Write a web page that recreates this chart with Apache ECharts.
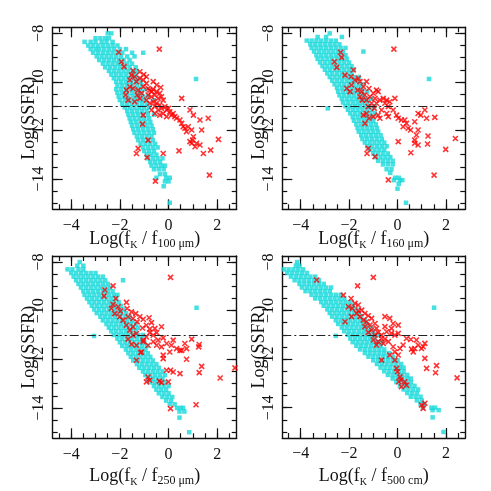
<!DOCTYPE html>
<html>
<head>
<meta charset="utf-8">
<script src="https://cdn.jsdelivr.net/npm/echarts@6/dist/echarts.min.js"></script>
<style>
  html, body { margin: 0; padding: 0; background: #fff; }
  #chart { width: 491px; height: 491px; }
</style>
</head>
<body>
<div id="chart"></div>
<script>
// shared axes of the four panels
const xRange = [-4.76, 2.8];
const yRange = [-15.25, -7.75];
const xMajor = [-4, -2, 0, 2];
const xTicks = [-4.5, -4, -3.5, -3, -2.5, -2, -1.5, -1, -0.5, 0, 0.5, 1, 1.5, 2, 2.5];
const yMajor = [-14, -12, -10, -8];
const yTicks = [-15, -14.5, -14, -13.5, -13, -12.5, -12, -11.5, -11, -10.5, -10, -9.5, -9, -8.5, -8];
const cutLevel = -11;
const bands = ['100 μm', '160 μm', '250 μm', '500 cm'];

// cyan squares, one row per Log(SSFR) level: [y, x, x, ...]
const cyanRows100 = [
  [-8.0, -2.35, -2.5],
  [-8.2, -3.0, -2.8, -2.6, -2.45],
  [-8.35, -3.45, -3.2, -3.0, -2.75, -2.55, -2.3],
  [-8.5, -3.3, -3.1, -2.9, -2.7, -2.5, -2.3, -2.1],
  [-8.65, -3.2, -3.0, -2.85, -2.65, -2.45, -2.25, -2.0, -1.75],
  [-8.8, -3.1, -2.9, -2.7, -2.5, -2.3, -2.1, -1.9, -1.5, -1.04],
  [-8.95, -2.95, -2.75, -2.55, -2.35, -2.15, -1.95, -1.7, -1.4],
  [-9.1, -2.85, -2.65, -2.45, -2.25, -2.05, -1.85, -1.6],
  [-9.25, -2.7, -2.5, -2.3, -2.1, -1.9, -1.7, -1.5],
  [-9.4, -2.6, -2.4, -2.2, -2.0, -1.8, -1.6, -1.35],
  [-9.55, -2.45, -2.25, -2.05, -1.85, -1.65, -1.45, -1.3],
  [-9.7, -2.35, -2.15, -1.95, -1.75, -1.55, -1.35],
  [-9.85, -2.25, -2.05, -1.85, -1.65, -1.45, -1.25],
  [-10.0, -2.15, -1.95, -1.75, -1.55, -1.35, -1.15],
  [-10.15, -2.1, -1.9, -1.7, -1.5, -1.3, -1.1],
  [-10.3, -2.15, -1.95, -1.75, -1.55, -1.35, -1.15, -0.95],
  [-10.45, -2.1, -1.9, -1.7, -1.5, -1.3, -1.1],
  [-10.6, -2.05, -1.85, -1.65, -1.45, -1.25, -1.05, -0.85],
  [-10.75, -2.0, -1.8, -1.6, -1.4, -1.2, -1.0, -0.6],
  [-10.9, -1.9, -1.7, -1.5, -1.3, -1.1, -0.9],
  [-11.05, -1.8, -1.6, -1.4, -1.2, -1.0, -0.8],
  [-11.2, -1.7, -1.5, -1.3, -1.1, -0.9],
  [-11.35, -1.65, -1.45, -1.25, -1.05, -0.85, -0.6],
  [-11.5, -1.6, -1.4, -1.2, -1.0, -0.8],
  [-11.65, -1.55, -1.35, -1.15, -0.95, -0.75],
  [-11.8, -1.5, -1.3, -1.1, -0.9, -0.7],
  [-11.95, -1.45, -1.25, -1.05, -0.85, -0.65],
  [-12.1, -1.4, -1.2, -1.0, -0.8, -0.6],
  [-12.25, -1.3, -1.1, -0.9, -0.7],
  [-12.4, -1.25, -1.05, -0.85, -0.65],
  [-12.55, -1.15, -0.95, -0.75, -0.55],
  [-12.7, -1.05, -0.85, -0.65, -0.45],
  [-12.85, -1.0, -0.8, -0.6],
  [-13.0, -0.9, -0.7, -0.5],
  [-13.15, -0.85, -0.65, -0.45, -0.25],
  [-13.3, -0.75, -0.55, -0.35],
  [-13.45, -0.7, -0.5, -0.3, -0.15],
  [-13.6, -0.6, -0.4, -0.2],
  [-13.8, -0.35, -0.15],
  [-13.95, -0.5, -0.1, 0.05],
  [-14.1, -0.15, 0.0],
  [-14.3, -0.2],
  [-14.98, 0.05],
  [-9.88, 1.13]
];

const cyanRows160 = [
  [-8.0, -2.8],
  [-8.15, -3.3, -2.95, -2.3],
  [-8.3, -3.75, -3.55, -3.35, -3.15, -2.95, -2.75, -2.55],
  [-8.45, -3.6, -3.4, -3.2, -3.0, -2.8, -2.6, -2.4],
  [-8.6, -3.55, -3.35, -3.15, -2.95, -2.75, -2.55, -2.35, -2.15],
  [-8.75, -3.45, -3.25, -3.05, -2.85, -2.65, -2.45, -2.25, -1.41],
  [-8.9, -3.35, -3.15, -2.95, -2.75, -2.55, -2.35, -2.15],
  [-9.05, -3.3, -3.1, -2.9, -2.7, -2.5, -2.3, -2.1],
  [-9.2, -3.2, -3.0, -2.8, -2.6, -2.4, -2.2, -2.0],
  [-9.35, -3.1, -2.9, -2.7, -2.5, -2.3, -2.1, -1.9],
  [-9.5, -3.0, -2.8, -2.6, -2.4, -2.2, -2.0, -1.8],
  [-9.65, -2.9, -2.7, -2.5, -2.3, -2.1, -1.9],
  [-9.8, -2.8, -2.6, -2.4, -2.2, -2.0, -1.8, -1.6],
  [-9.95, -2.7, -2.5, -2.3, -2.1, -1.9, -1.7],
  [-10.1, -2.6, -2.4, -2.2, -2.0, -1.8, -1.6, -1.4],
  [-10.25, -2.5, -2.3, -2.1, -1.9, -1.7, -1.5],
  [-10.4, -2.45, -2.25, -2.05, -1.85, -1.65, -1.45, -1.25],
  [-10.55, -2.4, -2.2, -2.0, -1.8, -1.6, -1.4],
  [-10.7, -2.3, -2.1, -1.9, -1.7, -1.5, -1.3, -1.1],
  [-10.85, -2.25, -2.05, -1.85, -1.65, -1.45, -1.25],
  [-11.0, -2.15, -1.95, -1.75, -1.55, -1.35, -1.15, -0.95],
  [-11.15, -2.05, -1.85, -1.65, -1.45, -1.25, -1.05],
  [-11.3, -1.95, -1.75, -1.55, -1.35, -1.15, -0.95],
  [-11.45, -1.85, -1.65, -1.45, -1.25, -1.05],
  [-11.6, -1.8, -1.6, -1.4, -1.2, -1.0],
  [-11.75, -1.7, -1.5, -1.3, -1.1, -0.9],
  [-11.9, -1.65, -1.45, -1.25, -1.05, -0.85],
  [-12.05, -1.6, -1.4, -1.2, -1.0, -0.8],
  [-12.2, -1.5, -1.3, -1.1, -0.9, -0.7],
  [-12.35, -1.45, -1.25, -1.05, -0.85, -0.65],
  [-12.5, -1.35, -1.15, -0.95, -0.75, -0.55],
  [-12.65, -1.25, -1.05, -0.85, -0.65, -0.45],
  [-12.8, -1.15, -0.95, -0.75, -0.55],
  [-12.95, -1.0, -0.8, -0.6, -0.4],
  [-13.1, -0.9, -0.7, -0.5, -0.3],
  [-13.25, -0.8, -0.6, -0.4, -0.2],
  [-13.4, -0.6, -0.4, -0.2],
  [-13.6, -0.45, -0.25],
  [-13.75, -0.3],
  [-13.95, -0.1, 0.05],
  [-14.05, -0.15, 0.1, 0.2],
  [-14.2, 0.05],
  [-14.4, 0.0],
  [-14.98, 0.35],
  [-9.88, 1.3],
  [-11.09, -2.88]
];

const cyanRows250 = [
  [-8.0, -3.65],
  [-8.15, -3.75, -3.5],
  [-8.3, -4.15, -3.95, -3.7, -3.5],
  [-8.45, -4.0, -3.8, -3.6, -3.4, -3.2, -3.0],
  [-8.6, -3.9, -3.7, -3.5, -3.3, -3.1, -2.9, -2.7],
  [-8.75, -3.8, -3.6, -3.4, -3.2, -3.0, -2.8, -2.6, -1.87],
  [-8.9, -3.7, -3.5, -3.3, -3.1, -2.9, -2.7, -2.5],
  [-9.05, -3.6, -3.4, -3.2, -3.0, -2.8, -2.6, -2.4],
  [-9.2, -3.5, -3.3, -3.1, -2.9, -2.7, -2.5, -2.3],
  [-9.35, -3.45, -3.25, -3.05, -2.85, -2.65, -2.45, -2.25, -2.1],
  [-9.5, -3.35, -3.15, -2.95, -2.75, -2.55, -2.35, -2.15],
  [-9.65, -3.25, -3.05, -2.85, -2.65, -2.45, -2.25, -2.05],
  [-9.8, -3.15, -2.95, -2.75, -2.55, -2.35, -2.15, -1.95],
  [-9.95, -3.05, -2.85, -2.65, -2.45, -2.25, -2.05, -1.85],
  [-10.1, -2.95, -2.75, -2.55, -2.35, -2.15, -1.95, -1.75],
  [-10.25, -2.8, -2.6, -2.4, -2.2, -2.0, -1.8, -1.6],
  [-10.4, -2.7, -2.5, -2.3, -2.1, -1.9, -1.7, -1.5],
  [-10.55, -2.55, -2.35, -2.15, -1.95, -1.75, -1.55, -1.35],
  [-10.7, -2.45, -2.25, -2.05, -1.85, -1.65, -1.45, -1.25],
  [-10.85, -2.35, -2.15, -1.95, -1.75, -1.55, -1.35],
  [-11.0, -2.25, -2.05, -1.85, -1.65, -1.45, -1.25, -1.05],
  [-11.15, -2.1, -1.9, -1.7, -1.5, -1.3, -1.1],
  [-11.3, -2.0, -1.8, -1.6, -1.4, -1.2, -1.0],
  [-11.45, -1.9, -1.7, -1.5, -1.3, -1.1, -0.9],
  [-11.6, -1.75, -1.55, -1.35, -1.15, -0.95],
  [-11.75, -1.65, -1.45, -1.25, -1.05, -0.85],
  [-11.9, -1.55, -1.35, -1.15, -0.95, -0.75],
  [-12.05, -1.45, -1.25, -1.05, -0.85, -0.65],
  [-12.2, -1.3, -1.1, -0.9, -0.7, -0.5],
  [-12.35, -1.2, -1.0, -0.8, -0.6, -0.4],
  [-12.5, -1.05, -0.85, -0.65, -0.45, -0.25],
  [-12.65, -0.95, -0.75, -0.55, -0.35, -0.15],
  [-12.8, -0.85, -0.65, -0.45, -0.25],
  [-12.95, -0.75, -0.55, -0.35, -0.15],
  [-13.1, -0.6, -0.4, -0.2, 0.0],
  [-13.25, -0.5, -0.3, -0.1],
  [-13.4, -0.4, -0.2, 0.0],
  [-13.55, -0.25, -0.05, 0.15],
  [-13.7, -0.1, 0.1],
  [-13.85, 0.05, 0.25],
  [-14.0, 0.35, 0.5, 0.6],
  [-14.15, 0.45, 0.65],
  [-14.4, 0.45],
  [-15.0, 0.85],
  [-9.88, 1.15],
  [-11.04, -3.06]
];

const cyanRows500 = [
  [-8.0, -4.15],
  [-8.15, -4.2, -4.05],
  [-8.3, -4.7, -4.5, -4.3, -4.1, -3.9],
  [-8.45, -4.55, -4.35, -4.15, -3.95, -3.75],
  [-8.6, -4.4, -4.2, -4.0, -3.8, -3.6, -3.4],
  [-8.75, -4.25, -4.05, -3.85, -3.65, -3.45, -3.25],
  [-8.9, -4.05, -3.85, -3.65, -3.45, -3.25, -3.05],
  [-9.05, -3.95, -3.75, -3.55, -3.35, -3.15, -2.95, -2.75],
  [-9.2, -3.8, -3.6, -3.4, -3.2, -3.0, -2.8],
  [-9.35, -3.55, -3.35, -3.15, -2.95, -2.75, -2.55, -2.35],
  [-9.5, -3.4, -3.2, -3.0, -2.8, -2.6, -2.4, -2.2],
  [-9.65, -3.15, -2.95, -2.75, -2.55, -2.35, -2.15, -1.95],
  [-9.8, -3.05, -2.85, -2.65, -2.45, -2.25, -2.05, -1.85],
  [-9.95, -2.9, -2.7, -2.5, -2.3, -2.1, -1.9, -1.7],
  [-10.1, -2.8, -2.6, -2.4, -2.2, -2.0, -1.8, -1.6],
  [-10.25, -2.7, -2.5, -2.3, -2.1, -1.9, -1.7, -1.5],
  [-10.4, -2.55, -2.35, -2.15, -1.95, -1.75, -1.55, -1.35],
  [-10.55, -2.45, -2.25, -2.05, -1.85, -1.65, -1.45, -1.25],
  [-10.7, -2.3, -2.1, -1.9, -1.7, -1.5, -1.3, -1.1],
  [-10.85, -2.2, -2.0, -1.8, -1.6, -1.4, -1.2, -1.0],
  [-11.0, -2.05, -1.85, -1.65, -1.45, -1.25, -1.05, -0.85],
  [-11.15, -1.95, -1.75, -1.55, -1.35, -1.15, -0.95],
  [-11.3, -1.85, -1.65, -1.45, -1.25, -1.05, -0.85, -0.65],
  [-11.45, -1.7, -1.5, -1.3, -1.1, -0.9, -0.7],
  [-11.6, -1.55, -1.35, -1.15, -0.95, -0.75, -0.55],
  [-11.75, -1.35, -1.15, -0.95, -0.75, -0.55, -0.35],
  [-11.9, -1.2, -1.0, -0.8, -0.6, -0.4, -0.2],
  [-12.05, -1.0, -0.8, -0.6, -0.4, -0.2, 0.0],
  [-12.2, -0.85, -0.65, -0.45, -0.25, -0.05, 0.15],
  [-12.35, -0.7, -0.5, -0.3, -0.1, 0.1, 0.25],
  [-12.5, -0.55, -0.35, -0.15, 0.05, 0.25],
  [-12.65, -0.4, -0.2, 0.0, 0.2, 0.4],
  [-12.8, -0.2, 0.0, 0.2, 0.4, 0.55],
  [-12.95, -0.05, 0.15, 0.35, 0.55],
  [-13.1, 0.1, 0.3, 0.5, 0.7],
  [-13.25, 0.25, 0.45, 0.65, 0.85],
  [-13.4, 0.4, 0.6, 0.8],
  [-13.55, 0.55, 0.75, 0.95],
  [-13.7, 0.8, 1.0],
  [-13.85, 0.95, 1.1],
  [-14.0, 1.05, 1.4, 1.55],
  [-14.1, 1.45, 1.7],
  [-14.4, 1.45],
  [-15.0, 1.9],
  [-9.88, 1.51],
  [-11.04, -2.55]
];

// red crosses, [x, y]
const red100 = [
  [-0.38, -8.65], [-2.05, -8.78], [-1.94, -9.17], [-1.83, -9.37], [-1.46, -9.54], [-1.52, -9.72],
  [-1.39, -9.79], [-1.59, -9.92], [-1.32, -9.99], [-1.18, -9.85], [-1.04, -9.92], [-0.91, -10.06],
  [-1.04, -10.2], [-0.84, -10.27], [-0.77, -10.34], [-0.70, -10.4], [-0.63, -10.31], [-0.49, -10.4],
  [-0.56, -10.54], [-0.36, -10.47], [-0.29, -10.61], [-0.22, -10.75], [-0.43, -10.68], [-0.70, -10.61],
  [-0.84, -10.54], [-0.91, -10.75], [-0.77, -10.88], [-0.63, -10.82], [-0.49, -10.88], [-0.36, -10.95],
  [-0.15, -11.02], [-0.08, -11.16], [-0.01, -11.09], [0.05, -11.23], [0.19, -11.3], [0.12, -11.37],
  [-0.22, -11.3], [-0.36, -11.37], [-0.08, -11.43], [0.26, -11.43], [0.33, -11.5], [0.47, -11.57],
  [0.54, -11.71], [0.6, -11.85], [0.67, -11.91], [0.74, -12.05], [0.81, -11.85], [0.95, -11.98],
  [1.02, -12.26], [0.99, -12.4], [1.15, -12.53], [1.09, -12.67], [0.95, -12.53], [0.88, -12.46],
  [1.29, -12.6], [0.88, -11.16], [1.02, -11.37], [1.29, -11.57], [1.63, -11.5], [0.54, -10.68],
  [1.36, -11.98], [2.05, -12.37], [1.43, -12.95], [1.73, -12.81], [0.43, -12.84], [-0.22, -12.95],
  [-0.54, -14.09], [1.68, -13.84], [-0.84, -12.4], [-1.25, -12.74], [-1.32, -12.95], [-0.88, -13.11],
  [-1.04, -11.37], [-1.07, -11.74], [-1.73, -10.34], [-1.76, -10.54], [-1.66, -10.75], [-1.29, -10.54],
  [-1.18, -10.68], [-1.39, -10.82], [-1.59, -10.2], [-1.46, -10.27], [-1.25, -10.34], [-1.11, -10.47],
  [-0.63, -9.99], [-0.49, -10.13], [-0.32, -10.23], [-0.91, -9.79], [-1.02, -9.7], [-1.18, -9.58],
  [-0.70, -11.16], [-0.56, -11.3], [-0.43, -11.16], [-0.56, -11.0], [-0.29, -11.09]
];

const red160 = [
  [-0.15, -8.65], [-2.35, -8.78], [-2.61, -9.17], [-2.51, -9.4], [-2.31, -8.99], [-1.83, -9.51],
  [-2.17, -9.72], [-1.92, -9.79], [-1.76, -9.92], [-1.62, -9.85], [-1.55, -9.99], [-1.9, -10.13],
  [-2.1, -10.27], [-1.96, -10.4], [-1.65, -10.34], [-1.48, -10.4], [-1.41, -10.2], [-1.28, -9.99],
  [-1.18, -10.27], [-1.35, -10.54], [-1.55, -10.61], [-1.46, -10.75], [-1.28, -10.75], [-1.14, -10.61],
  [-1.0, -10.47], [-0.87, -10.34], [-0.8, -10.4], [-0.93, -10.68], [-1.07, -10.88], [-1.21, -11.02],
  [-0.96, -11.09], [-0.87, -10.88], [-0.73, -10.75], [-0.59, -10.68], [-0.45, -10.75], [-0.52, -10.88],
  [-0.38, -11.02], [-0.18, -11.16], [-0.11, -10.68], [-0.32, -10.82], [-0.66, -11.16], [-0.8, -11.37],
  [-0.73, -11.5], [-0.38, -11.43], [-0.45, -11.3], [-0.04, -11.37], [0.03, -11.5], [0.16, -11.57],
  [0.3, -11.57], [0.37, -11.71], [0.23, -11.85], [0.44, -11.91], [0.54, -11.98], [0.71, -11.64],
  [0.85, -11.3], [1.13, -11.16], [1.2, -11.5], [0.96, -11.37], [1.54, -11.46], [0.85, -11.98],
  [0.78, -12.19], [0.71, -12.4], [0.71, -12.53], [0.85, -12.6], [1.26, -12.23], [1.24, -12.56],
  [0.03, -12.46], [0.55, -12.92], [1.99, -12.78], [2.39, -12.33], [1.51, -13.84], [-0.38, -14.04],
  [-0.93, -13.08], [-1.26, -12.95], [-1.21, -12.74], [-1.35, -11.71], [-1.41, -11.37], [-1.28, -11.3],
  [-1.18, -11.5], [-1.0, -11.43]
];

const red250 = [
  [0.08, -8.63], [-2.62, -9.15], [-2.28, -8.98], [-2.65, -9.4], [-2.17, -9.5], [-2.28, -9.74],
  [-2.07, -9.84], [-2.35, -9.91], [-1.98, -10.02], [-1.73, -9.66], [-1.7, -9.91], [-1.52, -10.05],
  [-1.35, -10.12], [-2.21, -10.12], [-2.01, -10.25], [-1.87, -10.39], [-1.66, -10.25], [-1.46, -10.32],
  [-1.29, -10.46], [-1.18, -10.25], [-1.04, -10.35], [-0.8, -10.29], [-0.7, -10.49], [-0.91, -10.6],
  [-1.07, -10.71], [-0.77, -10.76], [-0.56, -10.73], [-0.29, -10.66], [-0.49, -10.9], [-0.63, -11.01],
  [-0.77, -10.9], [-0.91, -11.08], [-1.04, -11.21], [-1.32, -10.94], [-1.46, -10.66], [-1.59, -10.8],
  [-1.73, -10.6], [-1.46, -11.01], [-1.66, -11.17], [-1.52, -11.38], [-1.32, -11.42], [-1.11, -11.7],
  [-1.04, -11.28], [-0.84, -11.42], [-0.63, -11.28], [-0.43, -11.21], [-0.22, -11.12], [-0.08, -11.35],
  [0.12, -11.42], [0.19, -11.21], [0.33, -11.56], [0.47, -11.63], [0.05, -11.7], [-0.22, -11.83],
  [-0.29, -11.49], [-0.49, -11.42], [0.67, -11.35], [0.95, -11.17], [0.74, -11.56], [1.26, -11.39],
  [1.24, -11.49], [0.54, -11.63], [0.19, -12.52], [-0.22, -11.97], [-0.08, -12.45], [0.47, -12.59],
  [0.74, -12.0], [1.36, -12.29], [1.26, -12.55], [0.08, -12.45], [-0.77, -12.86], [-0.29, -12.96],
  [-0.84, -12.73], [-0.38, -12.9], [-0.01, -12.93], [-0.91, -12.93], [0.08, -14.03], [1.13, -13.87],
  [2.12, -12.77], [2.73, -12.35], [-1.15, -11.72], [-1.32, -12.04]
];

const red500 = [
  [-1.0, -8.63], [-3.34, -8.74], [-1.65, -8.98], [-2.24, -9.36], [-1.92, -9.5], [-1.76, -9.7],
  [-2.03, -9.84], [-1.87, -9.91], [-1.62, -9.77], [-1.48, -9.98], [-1.69, -10.12], [-1.35, -10.12],
  [-1.55, -10.25], [-1.21, -10.21], [-1.41, -10.39], [-1.28, -10.46], [-1.07, -10.32], [-1.14, -10.6],
  [-1.35, -10.66], [-0.93, -10.53], [-0.87, -10.73], [-1.07, -10.8], [-1.21, -10.9], [-0.8, -10.9],
  [-0.66, -11.01], [-0.93, -11.01], [-1.0, -11.21], [-0.8, -11.28], [-0.59, -11.35], [-0.66, -11.15],
  [-0.52, -11.17], [-0.87, -11.42], [-0.45, -10.87], [-0.25, -10.94], [-0.11, -11.01], [0.03, -10.94],
  [-0.52, -10.25], [-0.32, -10.32], [-0.18, -10.53], [0.03, -10.6], [-0.25, -10.73], [-0.52, -10.66],
  [-0.38, -11.28], [-0.18, -11.49], [-0.11, -11.7], [-0.32, -11.83], [-0.11, -12.04], [0.03, -11.83],
  [0.1, -11.56], [0.23, -11.42], [0.37, -11.15], [0.55, -11.19], [0.58, -11.59], [0.71, -11.56],
  [0.65, -11.7], [0.78, -11.21], [0.85, -11.42], [0.99, -11.56], [1.06, -11.49], [1.13, -11.97],
  [1.2, -12.38], [1.61, -12.27], [1.57, -12.56], [1.13, -11.35], [-0.66, -12.04], [-0.04, -12.38],
  [0.0, -12.52], [0.1, -12.73], [0.14, -12.86], [0.3, -12.93], [0.37, -13.07], [0.05, -12.93],
  [0.16, -13.14], [0.99, -13.89], [1.13, -13.82], [1.06, -14.03], [-1.62, -10.01], [-1.9, -10.25],
  [-2.17, -10.46], [2.46, -12.77]
];

const serif = "'Liberation Serif', 'DejaVu Serif', serif";
const ink = '#111';
const cyan = '#17d9db';
const red = '#ff0000';
const cross = 'path://M0,0L10,10M10,0L0,10';

const panels = [
  { cyan: cyanRows100, red: red100, band: bands[0] },
  { cyan: cyanRows160, red: red160, band: bands[1] },
  { cyan: cyanRows250, red: red250, band: bands[2] },
  { cyan: cyanRows500, red: red500, band: bands[3] }
];

// plot boxes in pixels
const rects = [
  { left: 52.7, top: 27.3, width: 184, height: 182 },
  { left: 282.3, top: 27.3, width: 183, height: 182 },
  { left: 52.7, top: 256, width: 184, height: 182.3 },
  { left: 282.3, top: 256, width: 183, height: 182 }
];

function rowsToPoints(rows) {
  const pts = [];
  rows.forEach(r => {
    for (let i = 1; i < r.length; i++) pts.push([r[i], r[0]]);
  });
  return pts;
}

const minus = v => String(v).replace('-', '\u2212');
const tickStyle = { color: ink, width: 1.2 };
const boxLine = { show: true, onZero: false, lineStyle: { color: ink, width: 1.4 } };
const noLine = { show: false, onZero: false };

const grid = [];
const xAxis = [];
const yAxis = [];
const series = [];

// grids 0-3 carry the data, the box and short ticks; grids 4-7 sit on top with the long ticks
rects.forEach(r => grid.push({ ...r, outerBoundsMode: 'none' }));
rects.forEach(r => grid.push({ ...r, outerBoundsMode: 'none' }));

panels.forEach((p, g) => {
  const lowerRow = g >= 2;
  const baseX = { gridIndex: g, type: 'value', min: xRange[0], max: xRange[1], splitLine: { show: false } };
  const baseY = { gridIndex: g, type: 'value', min: yRange[0], max: yRange[1], splitLine: { show: false } };

  xAxis.push({
    ...baseX,
    position: 'bottom',
    axisLine: boxLine,
    axisTick: { inside: true, length: 5, customValues: xTicks, lineStyle: tickStyle },
    axisLabel: { customValues: xMajor, formatter: minus, margin: 8, fontFamily: serif, fontSize: 16, color: ink },
    name: '{m|Log(f}{k|K}{m| / f}{s|' + p.band + '}{m|)}',
    nameLocation: 'middle',
    nameGap: lowerRow ? 27 : 19,
    nameMoveOverlap: false,
    nameTextStyle: {
      rich: {
        m: { fontFamily: serif, fontSize: 18, color: ink, lineHeight: 22 },
        k: { fontFamily: serif, fontSize: 10, color: ink, lineHeight: 12, verticalAlign: 'bottom' },
        s: { fontFamily: serif, fontSize: 12, color: ink, lineHeight: 13, verticalAlign: 'bottom' }
      }
    }
  });
  xAxis.push({
    ...baseX,
    position: 'top',
    axisLine: boxLine,
    axisTick: { inside: true, length: 5, customValues: xTicks, lineStyle: tickStyle },
    axisLabel: { show: false }
  });

  yAxis.push({
    ...baseY,
    position: 'left',
    axisLine: boxLine,
    axisTick: { inside: true, length: 5, customValues: yTicks, lineStyle: tickStyle },
    axisLabel: { customValues: yMajor, formatter: minus, rotate: 90, margin: 6, fontFamily: serif, fontSize: 16, color: ink },
    name: 'Log(SSFR)',
    nameLocation: 'middle',
    nameGap: 14,
    nameMoveOverlap: false,
    nameTextStyle: { fontFamily: serif, fontSize: 18, color: ink }
  });
  yAxis.push({
    ...baseY,
    position: 'right',
    axisLine: boxLine,
    axisTick: { inside: true, length: 5, customValues: yTicks, lineStyle: tickStyle },
    axisLabel: { show: false }
  });

  series.push({
    type: 'scatter',
    xAxisIndex: 2 * g,
    yAxisIndex: 2 * g,
    data: rowsToPoints(p.cyan),
    symbol: 'rect',
    symbolSize: 4.5,
    itemStyle: { color: cyan },
    silent: true
  });
  series.push({
    type: 'scatter',
    xAxisIndex: 2 * g,
    yAxisIndex: 2 * g,
    data: p.red,
    symbol: cross,
    symbolSize: 5,
    itemStyle: { color: 'rgba(0,0,0,0)', borderColor: red, borderWidth: 1.6 },
    silent: true,
    markLine: {
      silent: true,
      symbol: ['none', 'none'],
      label: { show: false },
      lineStyle: { color: '#222', width: 1.1, type: [9, 3, 2, 3] },
      data: [{ yAxis: cutLevel }]
    }
  });
});

// long ticks at the labelled values, on all four sides
panels.forEach((p, g) => {
  const gi = 4 + g;
  const longX = { gridIndex: gi, type: 'value', min: xRange[0], max: xRange[1], splitLine: { show: false },
    axisLine: noLine, axisLabel: { show: false },
    axisTick: { inside: true, length: 10, customValues: xMajor, lineStyle: tickStyle } };
  const longY = { gridIndex: gi, type: 'value', min: yRange[0], max: yRange[1], splitLine: { show: false },
    axisLine: noLine, axisLabel: { show: false },
    axisTick: { inside: true, length: 10, customValues: yMajor, lineStyle: tickStyle } };
  xAxis.push({ ...longX, position: 'bottom' }, { ...longX, position: 'top' });
  yAxis.push({ ...longY, position: 'left' }, { ...longY, position: 'right' });
});

const chart = echarts.init(document.getElementById('chart'));
chart.setOption({
  animation: false,
  backgroundColor: '#fff',
  grid: grid,
  xAxis: xAxis,
  yAxis: yAxis,
  series: series
});
</script>
</body>
</html>
